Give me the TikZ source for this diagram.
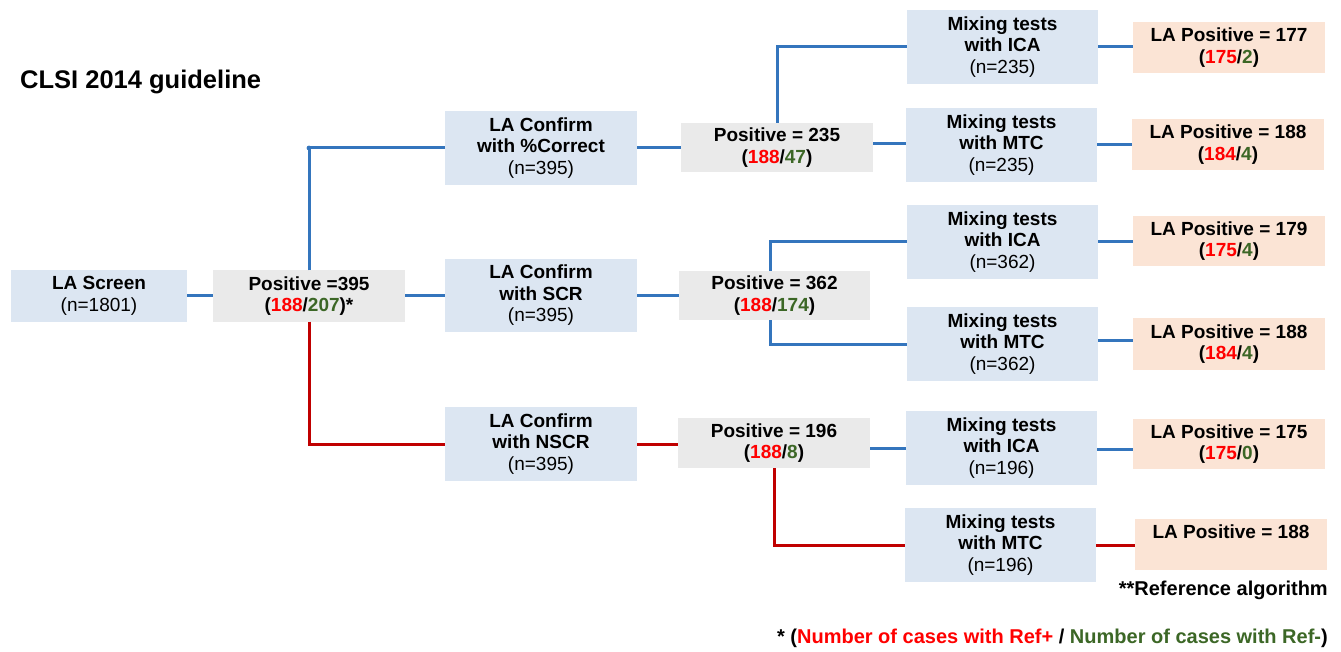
\documentclass[tikz,border=0pt]{standalone}
\usepackage{fontspec}
\setmainfont{Liberation Sans}
\definecolor{boxblue}{RGB}{220,230,242}
\definecolor{boxgray}{RGB}{234,234,234}
\definecolor{boxpeach}{RGB}{251,228,213}
\definecolor{lineblue}{RGB}{52,117,189}
\definecolor{linered}{RGB}{192,0,0}
\definecolor{txtred}{RGB}{255,0,0}
\definecolor{txtgreen}{RGB}{60,103,38}
\newcommand{\rp}[1]{\textcolor{txtred}{#1}}
\newcommand{\gn}[1]{\textcolor{txtgreen}{#1}}
\tikzset{
  base/.style={inner sep=0pt, align=center, font=\fontsize{19}{21.5}\selectfont, text=black},
  bluebox/.style={base, fill=boxblue, minimum width=192pt, minimum height=74pt},
  graybox/.style={base, fill=boxgray, minimum width=192pt, minimum height=50pt},
  peachbox/.style={base, fill=boxpeach, minimum width=192pt, minimum height=51pt},
  screenbox/.style={base, fill=boxblue, minimum width=176pt, minimum height=51pt},
  bl/.style={draw=lineblue, line width=3pt},
  rl/.style={draw=linered, line width=3pt},
}
\begin{document}
\begin{tikzpicture}[x=1pt,y=-1pt]
\useasboundingbox[fill=white] (0,0) rectangle (1341,652);

% nodes
\node[screenbox] (scr) at (99,296) {\textbf{LA Screen}\\(n=1801)};
\node[graybox, minimum height=51pt] (p395) at (309,296) {\textbf{Positive =395}\\\textbf{(\rp{188}/\gn{207})*}};

\node[bluebox] (cc) at (541,148) {\textbf{LA Confirm}\\\textbf{with \%Correct}\\(n=395)};
\node[bluebox, minimum height=73pt] (cs) at (541,295.5) {\textbf{LA Confirm}\\\textbf{with SCR}\\(n=395)};
\node[bluebox] (cn) at (541,444) {\textbf{LA Confirm}\\\textbf{with NSCR}\\(n=395)};

\node[graybox, minimum height=49pt] (p235) at (777,147.5) {\textbf{Positive = 235}\\\textbf{(\rp{188}/\gn{47})}};
\node[graybox, minimum height=49pt, minimum width=191pt] (p362) at (774.5,295.5) {\textbf{Positive = 362}\\\textbf{(\rp{188}/\gn{174})}};
\node[graybox] (p196) at (774,443) {\textbf{Positive = 196}\\\textbf{(\rp{188}/\gn{8})}};

\node[bluebox, minimum width=191pt] (m1) at (1002.5,47) {\textbf{Mixing tests}\\\textbf{with ICA}\\(n=235)};
\node[bluebox, minimum width=191pt] (m2) at (1001.5,145) {\textbf{Mixing tests}\\\textbf{with MTC}\\(n=235)};
\node[bluebox, minimum width=191pt] (m3) at (1002.5,242) {\textbf{Mixing tests}\\\textbf{with ICA}\\(n=362)};
\node[bluebox, minimum width=191pt] (m4) at (1002.5,344) {\textbf{Mixing tests}\\\textbf{with MTC}\\(n=362)};
\node[bluebox, minimum width=191pt] (m5) at (1001.5,448) {\textbf{Mixing tests}\\\textbf{with ICA}\\(n=196)};
\node[bluebox, minimum width=191pt] (m6) at (1000.5,545) {\textbf{Mixing tests}\\\textbf{with MTC}\\(n=196)};

\node[peachbox] (r1) at (1229,47.5) {\textbf{LA Positive = 177}\\\textbf{(\rp{175}/\gn{2})}};
\node[peachbox] (r2) at (1228,144.5) {\textbf{LA Positive = 188}\\\textbf{(\rp{184}/\gn{4})}};
\node[peachbox, minimum height=50pt] (r3) at (1229,241) {\textbf{LA Positive = 179}\\\textbf{(\rp{175}/\gn{4})}};
\node[peachbox, minimum height=52pt] (r4) at (1229,344) {\textbf{LA Positive = 188}\\\textbf{(\rp{184}/\gn{4})}};
\node[peachbox, minimum height=50pt] (r5) at (1229,444) {\textbf{LA Positive = 175}\\\textbf{(\rp{175}/\gn{0})}};
\node[peachbox] (r6) at (1231,544.5) {\textbf{LA Positive = 188}\\\phantom{(}};

% texts
\node[anchor=west, inner sep=0pt, font=\fontsize{25.5}{28}\selectfont\bfseries] (title) at (20,82) {CLSI 2014 guideline};
\node[anchor=east, inner sep=0pt, font=\fontsize{20}{23}\selectfont\bfseries] (refalg) at (1328,590) {**Reference algorithm};
\node[anchor=east, inner sep=0pt, font=\fontsize{20}{23}\selectfont\bfseries] (foot) at (1328,638) {* (\rp{Number of cases with Ref+} / \gn{Number of cases with Ref-})};

% connectors
\draw[bl] (scr.east) -- (p395.west);
\draw[bl] (p395.north) |- (cc.west);
\fill[lineblue] (p395.north |- cc.west) circle (2.4pt);
\draw[bl] (p395.east) -- (p395.east -| cs.west);
\draw[rl] (p395.south) |- (cn.west);

\draw[bl] (cc.east) -- (cc.east -| p235.west);
\draw[bl] (cs.east) -- (cs.east -| p362.west);
\draw[rl] (cn.east) -- (cn.east -| p196.west);

\draw[bl] (p235.north) |- (m1.west);
\draw[bl] ([yshift=3.5pt]p235.east) -- ([yshift=3.5pt]p235.east -| m2.west);
\draw[bl] ([xshift=-4.5pt]p362.north) |- (m3.west);
\draw[bl] ([xshift=-4.5pt]p362.south) |- (m4.west);
\draw[bl] (m5.west -| p196.east) -- (m5.west);
\draw[rl] (p196.south) |- (m6.west);

\draw[bl] (m1.east) -- (m1.east -| r1.west);
\draw[bl] (m2.east) -- (m2.east -| r2.west);
\draw[bl] (m3.east) -- (m3.east -| r3.west);
\draw[bl] ([yshift=4pt]m4.east) -- ([yshift=4pt]m4.east -| r4.west);
\draw[bl] ([yshift=-1pt]m5.east) -- ([yshift=-1pt]m5.east -| r5.west);
\draw[rl] (m6.east) -- (m6.east -| r6.west);
\end{tikzpicture}
\end{document}
